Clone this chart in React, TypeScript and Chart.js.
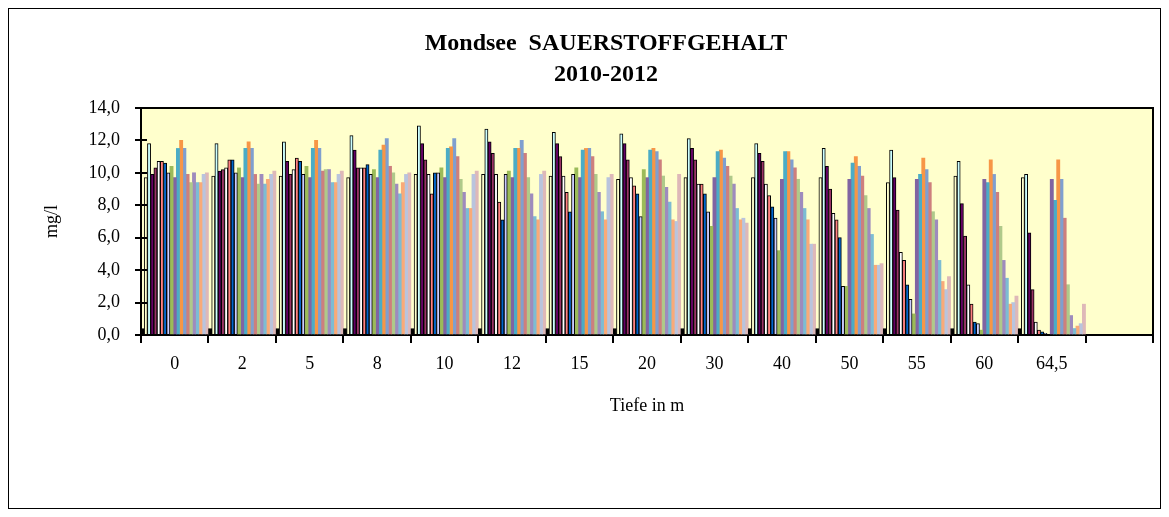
import React, { useEffect, useRef } from 'react';
import { Chart, registerables } from 'chart.js';

Chart.register(...registerables);

// Categories (depth in m) and y tick values
const depths = ['0', '2', '5', '8', '10', '12', '15', '20', '30', '40', '50', '55', '60', '64,5', ''];
const yTickValues = [0, 2, 4, 6, 8, 10, 12, 14];

// Series values (mg/l) per sampling date, one value per depth
const s01 = [0.4, 0.4, 0.4, 0.4, 0.4, 0.4, 0.4, 0.4, 0.4, 0.4, 0.4, 0.4, 0.4, 0.4, null];
const s02 = [9.7, 9.8, 9.8, 9.7, 9.9, 9.9, 9.8, 9.6, 9.7, 9.7, 9.7, 9.4, 9.8, 9.7, null];
const s03 = [11.8, 11.8, 11.9, 12.3, 12.9, 12.7, 12.5, 12.4, 12.1, 11.8, 11.5, 11.4, 10.7, 9.9, null];
const s04 = [9.9, 10.1, 10.7, 11.4, 11.8, 11.9, 11.8, 11.8, 11.5, 11.2, 10.4, 9.7, 8.1, 6.3, null];
const s05 = [10.3, 10.2, 9.9, 10.3, 10.8, 11.2, 11.0, 10.8, 10.8, 10.7, 9.0, 7.7, 6.1, 2.8, null];
const s06 = [10.7, 10.3, 10.2, 10.3, 9.9, 9.9, 9.8, 9.7, 9.3, 9.3, 7.5, 5.1, 3.1, 0.8, null];
const s07 = [10.7, 10.8, 10.9, 10.3, 8.7, 8.2, 8.8, 9.2, 9.3, 8.6, 7.1, 4.6, 1.9, 0.3, null];
const s08 = [10.6, 10.8, 10.7, 10.5, 10.0, 7.1, 7.6, 8.7, 8.7, 7.9, 6.0, 3.1, 0.8, 0.2, null];
const s09 = [10.0, 10.0, 9.9, 9.9, 10.0, 9.9, 9.9, 7.3, 7.6, 7.2, 3.0, 2.2, 0.7, 0.1, null];
const s10 = [10.4, 10.3, 10.4, 10.2, 10.3, 10.1, 10.3, 10.2, 6.7, 5.2, 3.0, 1.3, 0.3, null, null];
const s11 = [9.7, 9.7, 9.7, 9.7, 9.7, 9.7, 9.7, 9.7, 9.7, 9.6, 9.6, 9.6, 9.6, 9.6, null];
const s12 = [11.5, 11.5, 11.5, 11.4, 11.5, 11.5, 11.4, 11.4, 11.3, 11.3, 10.6, 9.9, 9.4, 8.3, null];
const s13 = [12.0, 11.9, 12.0, 11.7, 11.6, 11.5, 11.5, 11.5, 11.4, 11.3, 11.0, 10.9, 10.8, 10.8, null];
const s14 = [11.5, 11.5, 11.5, 12.1, 12.1, 12.0, 11.5, 11.3, 10.9, 10.8, 10.4, 10.2, 9.9, 9.6, null];
const s15 = [9.9, 9.9, 10.1, 10.4, 11.0, 11.2, 11.0, 10.8, 10.4, 10.3, 9.8, 9.4, 8.8, 7.2, null];
const s16 = [9.4, 9.3, 10.2, 10.0, 9.6, 9.7, 9.9, 9.8, 9.8, 9.6, 8.6, 7.6, 6.7, 3.1, null];
const s17 = [10.0, 9.9, 10.2, 9.3, 8.8, 8.7, 8.8, 9.1, 9.3, 8.8, 7.8, 7.1, 4.6, 1.2, null];
const s18 = [9.4, 9.3, 9.4, 8.7, 7.8, 7.3, 7.6, 8.2, 7.8, 7.8, 6.2, 4.6, 3.5, 0.4, null];
const s19 = [9.4, 9.6, 9.4, 9.4, 7.8, 7.1, 7.1, 7.1, 7.1, 7.1, 4.3, 3.3, 1.9, 0.55, null];
const s20 = [9.9, 9.9, 9.9, 9.9, 9.9, 9.9, 9.7, 7.0, 7.2, 5.6, 4.3, 2.8, 2.0, 0.7, null];
const s21 = [10.0, 10.1, 10.1, 10.0, 10.1, 10.1, 9.9, 9.9, 6.9, 5.6, 4.4, 3.6, 2.4, 1.9, null];

const seriesValues = [s01, s02, s03, s04, s05, s06, s07, s08, s09, s10, s11, s12, s13, s14, s15, s16, s17, s18, s19, s20, s21];

// Styles
const seriesFills = [
  '#000000', '#FFFFCC', '#CCFFFF', '#660066', '#993366', '#FFFFFF', '#FF8080', '#0066CC', '#CCCCFF',
  '#9BBB59', '#8064A2', '#4BACC6', '#F79646', '#7F9FCF', '#CD7F7D', '#AFC98A', '#9E8BBD', '#7DBCD3',
  '#F9AA78', '#B9C4DD', '#DEB8B8',
];
const borderedCount = 9;
const serif = "'Liberation Serif', 'Times New Roman', serif";

const plotFrame = {
  id: 'plotFrame',
  beforeDraw(chart: any) {
    const { ctx, chartArea: a } = chart;
    ctx.save();
    ctx.fillStyle = '#FFFFCC';
    ctx.fillRect(a.left, a.top, a.right - a.left, a.bottom - a.top);
    ctx.restore();
  },
  afterDraw(chart: any) {
    const { ctx, chartArea: a } = chart;
    const y = chart.scales.y;
    ctx.save();
    ctx.strokeStyle = '#000';
    ctx.lineWidth = 2;
    ctx.beginPath();
    ctx.moveTo(a.left, a.top);
    ctx.lineTo(a.right, a.top);
    ctx.lineTo(a.right, a.bottom);
    ctx.stroke();
    ctx.beginPath();
    y.ticks.forEach((t: any) => {
      const py = Math.round(y.getPixelForValue(t.value));
      ctx.moveTo(a.left, py);
      ctx.lineTo(a.left + 6, py);
    });
    ctx.stroke();
    ctx.restore();
  },
};

export default function App() {
  const ref = useRef<HTMLCanvasElement | null>(null);
  useEffect(() => {
    if (!ref.current) return;
    const chart = new Chart(ref.current, {
      type: 'bar',
      data: {
        labels: depths,
        datasets: seriesValues.map((data, i) => ({
          label: `Serie ${i + 1}`,
          data,
          backgroundColor: seriesFills[i],
          borderColor: '#000000',
          borderWidth: i < borderedCount ? 1 : 0,
          borderSkipped: 'start',
          barPercentage: 1,
          categoryPercentage: 1,
        })),
      },
      options: {
        responsive: false,
        animation: false,
        layout: { padding: { left: 50, right: 7, top: 0, bottom: 0 } },
        plugins: {
          legend: { display: false },
          tooltip: { enabled: false },
          title: {
            display: true,
            text: ['Mondsee  SAUERSTOFFGEHALT', '2010-2012'],
            color: '#000',
            font: { family: serif, size: 24, weight: 'bold', lineHeight: 1.31 },
            padding: { top: 18.75, bottom: 17.25 },
          },
        },
        scales: {
          x: {
            grid: { drawOnChartArea: false, tickLength: 8, color: '#000', lineWidth: 2, offset: true },
            border: { color: '#000', width: 2 },
            ticks: { color: '#000', font: { family: serif, size: 18 }, padding: 10, maxRotation: 0, autoSkip: false },
            title: { display: true, text: 'Tiefe in m', color: '#000', font: { family: serif, size: 18 }, padding: { top: 0, bottom: 90.7 } },
            afterFit: (s: any) => { s.height = 173; },
          },
          y: {
            min: 0,
            max: 14,
            afterBuildTicks: (s: any) => { s.ticks = yTickValues.map((v) => ({ value: v })); },
            grid: { drawOnChartArea: false, tickLength: 6, color: '#000', lineWidth: 2 },
            border: { color: '#000', width: 2 },
            ticks: {
              color: '#000',
              font: { family: serif, size: 18 },
              padding: 15,
              callback: (v: any) => Number(v).toFixed(1).replace('.', ','),
            },
            title: { display: true, text: 'mg/l', color: '#000', font: { family: serif, size: 18 }, padding: { top: -17.3, bottom: 0 } },
            afterFit: (s: any) => { s.width = 82; },
          },
        },
      },
      plugins: [plotFrame],
    } as any);
    return () => chart.destroy();
  }, []);

  return (
    <div style={{ width: 1151, height: 499, border: '1px solid #000' }}>
      <canvas ref={ref} width={1151} height={499} style={{ display: 'block' }} />
    </div>
  );
}
